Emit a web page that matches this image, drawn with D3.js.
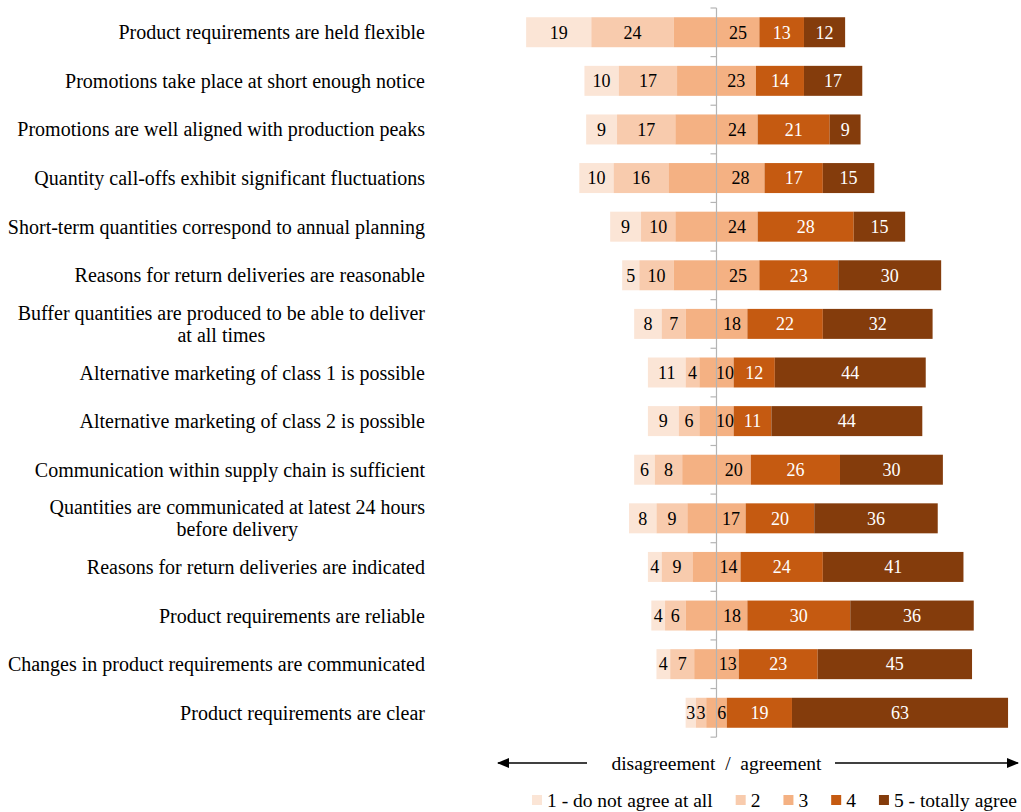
<!DOCTYPE html>
<html>
<head>
<meta charset="utf-8">
<script src="https://cdn.jsdelivr.net/npm/d3@7"></script>
<style>
  body { margin: 0; background: #fff; }
  svg text { font-family: "Liberation Serif", "Times New Roman", serif; }
</style>
</head>
<body>
<div id="chart"></div>
<script>
'use strict'

// statements (top to bottom), "\n" = line break in the label
const statements = [
	"Product requirements are held flexible",
	"Promotions take place at short enough notice",
	"Promotions are well aligned with production peaks",
	"Quantity call-offs exhibit significant fluctuations",
	"Short-term quantities correspond to annual planning",
	"Reasons for return deliveries are reasonable",
	"Buffer quantities are produced to be able to deliver\nat all times",
	"Alternative marketing of class 1 is possible",
	"Alternative marketing of class 2 is possible",
	"Communication within supply chain is sufficient",
	"Quantities are communicated at latest 24 hours\nbefore delivery",
	"Reasons for return deliveries are indicated",
	"Product requirements are reliable",
	"Changes in product requirements are communicated",
	"Product requirements are clear"
]

// answer shares per level (1 .. 5)
const level1 = [19, 10, 9, 10, 9, 5, 8, 11, 9, 6, 8, 4, 4, 4, 3]
const level2 = [24, 17, 17, 16, 10, 10, 7, 4, 6, 8, 9, 9, 6, 7, 3]
const level3 = [25, 23, 24, 28, 24, 25, 18, 10, 10, 20, 17, 14, 18, 13, 6]
const level4 = [13, 14, 21, 17, 28, 23, 22, 12, 11, 26, 20, 24, 30, 23, 19]
const level5 = [12, 17, 9, 15, 15, 30, 32, 44, 44, 30, 36, 41, 36, 45, 63]

const legendLabels = ["1 - do not agree at all", "2", "3", "4", "5 - totally agree"]
const colors = ["#fbe5d6", "#f8cbad", "#f4b183", "#c55a11", "#843c0c"]
const textColors = ["#000", "#000", "#000", "#fff", "#fff"]

const width = 1021, height = 812

let svg = d3.select("#chart").append("svg").attr("width", width).attr("height", height)

let center = 716.5
let unit = 3.43
let xScale = d3.scaleLinear().domain([-60, 90]).range([center - 60 * unit, center + 90 * unit])
let yScale = d3.scaleBand().domain(statements).range([8, 737]).paddingInner(0.383).paddingOuter(0.19)

// build segments: neutral level split around zero
let segs = []
statements.forEach(function(s, i){
	let vals = [level1[i], level2[i], level3[i], level4[i], level5[i]]
	let left = -(vals[0] + vals[1] + vals[2] / 2)
	let pos = left
	vals.forEach(function(v, k){
		let seg = {row: s, level: k, value: v, x0: pos, x1: pos + v}
		// label of the neutral level sits on its right half
		seg.lx = k == 2 ? pos + v * 0.75 : pos + v / 2
		segs.push(seg)
		pos += v
	})
})

let bars = svg.append("g")
bars.selectAll("rect")
	.data(segs)
	.enter()
	.append("rect")
	.attr("x", d => xScale(d.x0))
	.attr("width", d => xScale(d.x1) - xScale(d.x0))
	.attr("y", d => yScale(d.row))
	.attr("height", yScale.bandwidth())
	.attr("fill", d => colors[d.level])

bars.selectAll(".val")
	.data(segs)
	.enter()
	.append("text")
	.attr("class", "val")
	.attr("x", d => xScale(d.lx))
	.attr("y", d => yScale(d.row) + yScale.bandwidth() / 2)
	.attr("dy", "0.35em")
	.attr("text-anchor", "middle")
	.attr("font-size", 18)
	.attr("fill", d => textColors[d.level])
	.text(d => d.value)

// center axis with ticks between rows
let axisG = svg.append("g")
axisG.append("line")
	.attr("x1", xScale(0)).attr("x2", xScale(0))
	.attr("y1", 8).attr("y2", 737)
	.attr("stroke", "#b4b4b4").attr("stroke-width", 1.2)
let step = yScale.step()
let tickYs = d3.range(statements.length + 1).map(k => 8 + k * step)
axisG.selectAll(".tk")
	.data(tickYs)
	.enter()
	.append("line")
	.attr("x1", xScale(0) - 6).attr("x2", xScale(0))
	.attr("y1", d => d).attr("y2", d => d)
	.attr("stroke", "#b4b4b4").attr("stroke-width", 1.2)

// row labels, multi-line labels centered as a block
let labelRight = 425
statements.forEach(function(s){
	let lines = s.split("\n")
	let cy = yScale(s) + yScale.bandwidth() / 2
	let t = svg.append("text").attr("font-size", 20).attr("fill", "#000")
	if (lines.length == 1){
		t.attr("x", labelRight).attr("y", cy).attr("dy", "0.35em").attr("text-anchor", "end").text(s)
	}
	else {
		let lh = 22
		t.attr("text-anchor", "middle")
		lines.forEach(function(l, j){
			t.append("tspan").attr("y", cy + (j - (lines.length - 1) / 2) * lh).attr("dy", "0.35em").text(l)
		})
		let maxW = 0
		t.selectAll("tspan").each(function(){ maxW = Math.max(maxW, this.getComputedTextLength()) })
		t.selectAll("tspan").attr("x", labelRight - maxW / 2)
	}
})

// arrows below
let defs = svg.append("defs")
defs.append("marker")
	.attr("id", "arrow")
	.attr("viewBox", "0 0 12 10")
	.attr("refX", 11).attr("refY", 5)
	.attr("markerWidth", 12).attr("markerHeight", 10)
	.attr("markerUnits", "userSpaceOnUse")
	.attr("orient", "auto")
	.append("path").attr("d", "M0,0 L12,5 L0,10 Z").attr("fill", "#000")

let arrowY = 763
svg.append("line").attr("x1", 587).attr("x2", 498).attr("y1", arrowY).attr("y2", arrowY)
	.attr("stroke", "#000").attr("stroke-width", 1.3).attr("marker-end", "url(#arrow)")
svg.append("line").attr("x1", 835).attr("x2", 1018).attr("y1", arrowY).attr("y2", arrowY)
	.attr("stroke", "#000").attr("stroke-width", 1.3).attr("marker-end", "url(#arrow)")
svg.append("text").attr("x", xScale(0)).attr("y", arrowY).attr("dy", "0.35em")
	.attr("text-anchor", "middle").attr("font-size", 19.5).attr("fill", "#000")
	.attr("xml:space", "preserve")
	.text("disagreement  /  agreement")

// legend
let lx = 532, ly = 800
legendLabels.forEach(function(l, k){
	svg.append("rect").attr("x", lx).attr("y", ly - 5).attr("width", 10).attr("height", 10).attr("fill", colors[k])
	let t = svg.append("text").attr("x", lx + 15).attr("y", ly).attr("dy", "0.35em")
		.attr("font-size", 19.5).attr("fill", "#000").text(l)
	lx += 15 + t.node().getComputedTextLength() + 23
})
</script>
</body>
</html>
